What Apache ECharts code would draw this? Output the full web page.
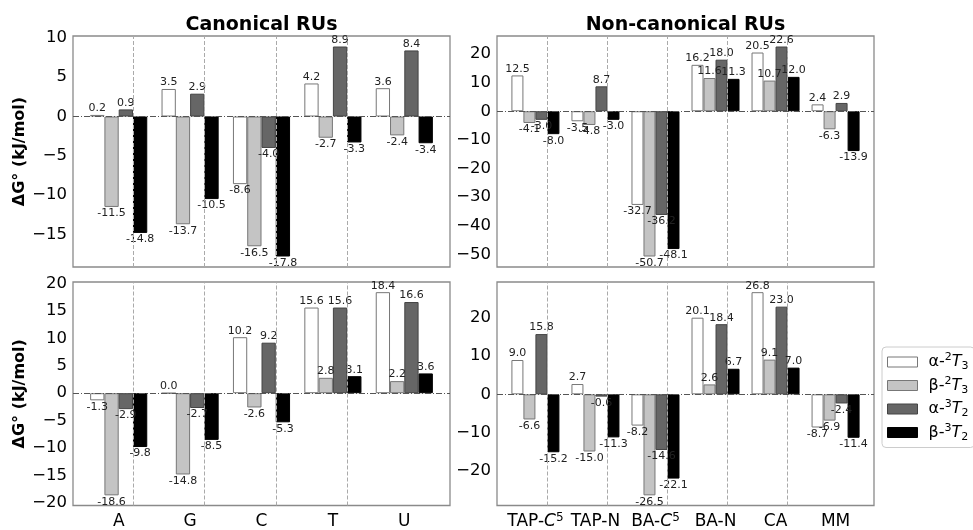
<!DOCTYPE html>
<html><head><meta charset="utf-8">
<script src="https://cdn.jsdelivr.net/npm/echarts@6/dist/echarts.min.js"></script>
<style>html,body{margin:0;padding:0;background:#fff}#c{width:973px;height:530px}</style>
</head><body><div id="c"></div>
<script>
// ---- data ----
const canonCats = ['A', 'G', 'C', 'T', 'U'];
const nonCanonCats = ['TAP-C5', 'TAP-N', 'BA-C5', 'BA-N', 'CA', 'MM'];
const seriesNames = ['α-2T3', 'β-2T3', 'α-3T2', 'β-3T2'];
const panelTitles = ['Canonical RUs', 'Non-canonical RUs'];
const yAxisTitle = 'ΔG° (kJ/mol)';

const topCanon_a2T3 = [0.2, 3.5, -8.6, 4.2, 3.6];
const topCanon_b2T3 = [-11.5, -13.7, -16.5, -2.7, -2.4];
const topCanon_a3T2 = [0.9, 2.9, -4.0, 8.9, 8.4];
const topCanon_b3T2 = [-14.8, -10.5, -17.8, -3.3, -3.4];

const topNon_a2T3 = [12.5, -3.5, -32.7, 16.2, 20.5, 2.4];
const topNon_b2T3 = [-4.1, -4.8, -50.7, 11.6, 10.7, -6.3];
const topNon_a3T2 = [-3.0, 8.7, -36.2, 18.0, 22.6, 2.9];
const topNon_b3T2 = [-8.0, -3.0, -48.1, 11.3, 12.0, -13.9];

const botCanon_a2T3 = [-1.3, 0.0, 10.2, 15.6, 18.4];
const botCanon_b2T3 = [-18.6, -14.8, -2.6, 2.8, 2.2];
const botCanon_a3T2 = [-2.9, -2.7, 9.2, 15.6, 16.6];
const botCanon_b3T2 = [-9.8, -8.5, -5.3, 3.1, 3.6];

const botNon_a2T3 = [9.0, 2.7, -8.2, 20.1, 26.8, -8.7];
const botNon_b2T3 = [-6.6, -15.0, -26.5, 2.6, 9.1, -6.9];
const botNon_a3T2 = [15.8, -0.6, -14.6, 18.4, 23.0, -2.4];
const botNon_b3T2 = [-15.2, -11.3, -22.1, 6.7, 7.0, -11.4];

// ---- styling / layout ----
const FONT = 'DejaVu Sans';
const barStyles = [
  { color: '#ffffff', borderColor: '#777777', borderWidth: 1 },
  { color: '#c4c4c4', borderColor: '#777777', borderWidth: 1 },
  { color: '#666666', borderColor: '#444444', borderWidth: 1 },
  { color: '#000000', borderColor: '#000000', borderWidth: 1 }
];

const panels = [
  { cats: canonCats, vals: [topCanon_a2T3, topCanon_b2T3, topCanon_a3T2, topCanon_b3T2], step: 5, split: 5,
    grid: { left: 73, top: 36, width: 377, height: 231 }, xLabels: false, yName: true },
  { cats: nonCanonCats, vals: [topNon_a2T3, topNon_b2T3, topNon_a3T2, topNon_b3T2], step: 10, split: 8,
    grid: { left: 497, top: 36, width: 377, height: 231 }, xLabels: false, yName: false },
  { cats: canonCats, vals: [botCanon_a2T3, botCanon_b2T3, botCanon_a3T2, botCanon_b3T2], step: 5, split: 8,
    grid: { left: 73, top: 282, width: 377, height: 230 }, xLabels: true, yName: true },
  { cats: nonCanonCats, vals: [botNon_a2T3, botNon_b2T3, botNon_a3T2, botNon_b3T2], step: 10, split: 5,
    grid: { left: 497, top: 282, width: 377, height: 230 }, xLabels: true, yName: false }
];

function richCat(name) {
  const m = name.match(/^(.*-)C5$/);
  if (m) return '{n|' + m[1] + '}{it|C}{sup|5}';
  return '{n|' + name + '}';
}
function richLegend(name) {
  return '{sp|}{n|' + name.slice(0, 2) + '}{sup|' + name[2] + '}{it|' + name[3] + '}{sub|' + name[4] + '}';
}
const richBase = {
  n: { fontFamily: FONT, fontSize: 17, color: '#000', lineHeight: 20 },
  it: { fontFamily: FONT, fontSize: 17, color: '#000', fontStyle: 'italic', lineHeight: 20 },
  sup: { fontFamily: FONT, fontSize: 12, color: '#000', lineHeight: 12, verticalAlign: 'top' },
  sub: { fontFamily: FONT, fontSize: 12, color: '#000', lineHeight: 12, verticalAlign: 'bottom' }
};
const richLeg = {
  sp: { width: 6 },
  n: { fontFamily: FONT, fontSize: 16, color: '#000', lineHeight: 20 },
  it: { fontFamily: FONT, fontSize: 16, color: '#000', fontStyle: 'italic', lineHeight: 20 },
  sup: { fontFamily: FONT, fontSize: 11, color: '#000', lineHeight: 11, verticalAlign: 'top' },
  sub: { fontFamily: FONT, fontSize: 11, color: '#000', lineHeight: 11, verticalAlign: 'bottom' }
};

const grids = [], xAxes = [], yAxes = [], series = [];
panels.forEach((p, pi) => {
  grids.push(Object.assign({ show: true, borderColor: '#8a8a8a', borderWidth: 1.3, backgroundColor: 'transparent' }, p.grid));
  const all = [0].concat(...p.vals);
  const lo = Math.min(...all), hi = Math.max(...all);
  const pad = (hi - lo) * 0.05;
  const n = p.cats.length;
  xAxes.push({
    type: 'value', gridIndex: pi, min: -0.64, max: n - 1 + 0.64, splitNumber: 5,
    axisLine: { show: false }, axisTick: { show: false }, splitLine: { show: false },
    axisLabel: {
      show: p.xLabels, margin: 6, rich: richBase,
      formatter: v => {
        const i = Math.round(v);
        if (Math.abs(v - i) > 1e-6 || i < 0 || i >= n) return '';
        return richCat(p.cats[i]);
      }
    }
  });
  yAxes.push({
    type: 'value', gridIndex: pi, min: lo - pad, max: hi + pad, splitNumber: p.split,
    axisLine: { show: false }, axisTick: { show: false }, splitLine: { show: false },
    name: p.yName ? yAxisTitle : '', nameLocation: 'middle', nameGap: 43,
    nameTextStyle: { fontFamily: FONT, fontSize: 16, fontWeight: 'bold', color: '#000' },
    axisLabel: {
      fontFamily: FONT, fontSize: 16.5, color: '#000', margin: 6,
      formatter: v => {
        const r = Math.round(v / p.step) * p.step;
        if (Math.abs(v - r) > 1e-6) return '';
        return r < 0 ? '\u2212' + Math.abs(r) : String(r);
      }
    }
  });
  p.vals.forEach((arr, k) => {
    const s = {
      type: 'bar', name: seriesNames[k], xAxisIndex: pi, yAxisIndex: pi,
      barWidth: '20%', barGap: '0%',
      itemStyle: barStyles[k],
      label: {
        show: true, fontFamily: FONT, fontSize: 11, color: '#222', distance: 1,
        formatter: q => q.value[1].toFixed(1)
      },
      data: arr.map((v, i) => ({ value: [i, v], label: { position: v < 0 ? 'bottom' : 'top' } }))
    };
    if (k === 0) {
      const seps = [];
      for (let i = 0; i < n - 1; i++) seps.push({ xAxis: i + 0.5 });
      seps.push({ yAxis: 0, lineStyle: { type: [6, 2, 1, 2], color: '#555', width: 1 } });
      s.markLine = {
        silent: true, symbol: ['none', 'none'], label: { show: false },
        lineStyle: { type: [4, 2], color: '#aaaaaa', width: 1 },
        data: seps, animation: false
      };
    }
    series.push(s);
  });
});

const chart = echarts.init(document.getElementById('c'), null, { renderer: 'canvas' });
chart.setOption({
  animation: false,
  textStyle: { fontFamily: FONT },
  grid: grids, xAxis: xAxes, yAxis: yAxes, series: series,
  legend: {
    orient: 'vertical', left: 882, top: 347,
    padding: [5, 6, 5, 5], itemGap: 3.5, itemWidth: 30, itemHeight: 10,
    borderColor: '#cccccc', borderWidth: 1, borderRadius: 4, backgroundColor: '#fff',
    icon: 'rect',
    data: seriesNames.map((nm, k) => ({ name: nm, itemStyle: barStyles[k] })),
    formatter: richLegend,
    textStyle: { rich: richLeg, fontSize: 16 }
  },
  graphic: [
    { type: 'text', x: 261.5, y: 25, style: { text: panelTitles[0], textAlign: 'center', textVerticalAlign: 'middle', font: 'bold 19px "DejaVu Sans"', fill: '#000' } },
    { type: 'text', x: 685.5, y: 25, style: { text: panelTitles[1], textAlign: 'center', textVerticalAlign: 'middle', font: 'bold 19px "DejaVu Sans"', fill: '#000' } }
  ]
});
</script>
</body></html>
